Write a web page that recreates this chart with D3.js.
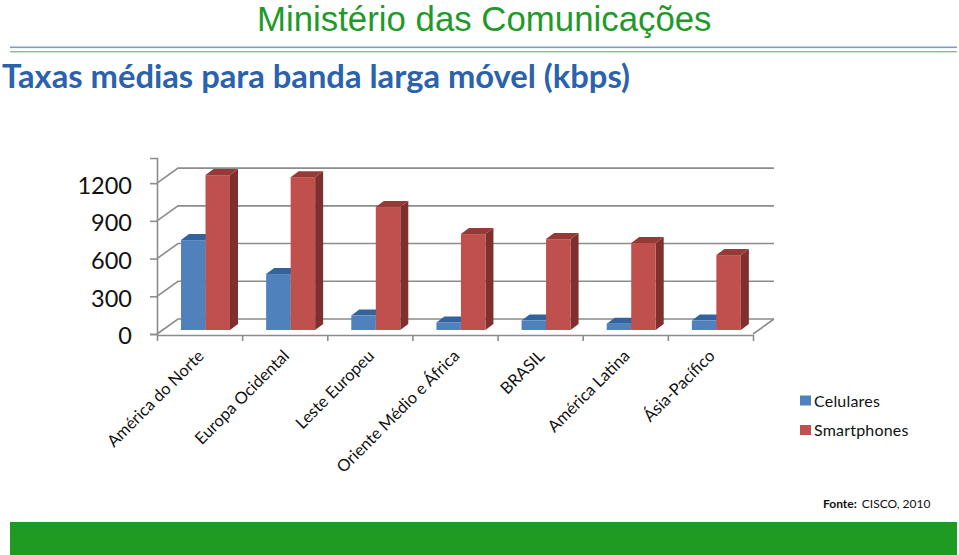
<!DOCTYPE html>
<html>
<head>
<meta charset="utf-8">
<script src="https://cdn.jsdelivr.net/npm/d3@7"></script>
<style>
html, body { margin: 0; padding: 0; background: #fff; overflow: hidden; }
text { font-family: Lato, sans-serif; }
</style>
</head>
<body>
<svg id="canvas"></svg>
<script>
let categories = ['América do Norte', 'Europa Ocidental', 'Leste Europeu', 'Oriente Médio e África', 'BRASIL', 'América Latina', 'Ásia-Pacífico']
let seriesNames = ['Celulares', 'Smartphones']
let celulares = [715, 445, 115, 60, 75, 50, 75]
let smartphones = [1232, 1216, 978, 763, 723, 692, 596]
let yTicks = [0, 300, 600, 900, 1200]

let width = 959
let height = 555

// offset of the back wall and of the bar depth
let wallX = 21
let wallY = -15
let depthX = 8
let depthY = -6
let barLift = -4

let frontColors = { Celulares: '#4f81bd', Smartphones: '#c0504d' }
let sideColors = { Celulares: '#2f5480', Smartphones: '#7f2f2c' }
let topColors = { Celulares: '#33639c', Smartphones: '#963a37' }

let canvas = d3.select('#canvas')
canvas.attr('width', width)
      .attr('height', height)

let xScale = d3.scaleBand()
               .domain(categories)
               .range([157, 753])

let innerScale = d3.scaleBand()
                   .domain(seriesNames)
                   .range([24, 73])

let yScale = d3.scaleLinear()
               .domain([0, 1400])
               .range([334, 158])

let drawHeader = () => {
    canvas.append('text')
          .attr('x', 257)
          .attr('y', 31)
          .attr('fill', '#1f9a2a')
          .style('font-family', '"Liberation Sans", sans-serif')
          .style('font-size', '34.8px')
          .text('Ministério das Comunicações')

    canvas.append('rect').attr('x', 10).attr('y', 46.5).attr('width', 947).attr('height', 1.6).attr('fill', '#7f9dbd')
    canvas.append('rect').attr('x', 10).attr('y', 51).attr('width', 947).attr('height', 1.4).attr('fill', '#8fb894')

    canvas.append('text')
          .attr('x', 2)
          .attr('y', 88)
          .attr('fill', '#2a62ae')
          .style('font-weight', 'bold')
          .style('font-size', '32.7px')
          .text('Taxas médias para banda larga móvel (kbps)')
}

let drawWalls = () => {
    let grid = canvas.append('g').attr('stroke', '#8c8c8c').attr('stroke-width', 1.6).attr('fill', 'none')

    grid.selectAll('.grid')
        .data(yTicks)
        .enter()
        .append('path')
        .attr('class', 'grid')
        .attr('d', (t) => {
            let y = yScale(t)
            return 'M' + xScale.range()[0] + ',' + y +
                   'L' + (xScale.range()[0] + wallX) + ',' + (y + wallY) +
                   'L' + (xScale.range()[1] + wallX) + ',' + (y + wallY)
        })

    // right edge of the floor
    grid.append('path')
        .attr('d', 'M' + xScale.range()[1] + ',' + yScale(0) + 'L' + (xScale.range()[1] + wallX) + ',' + (yScale(0) + wallY))
}

let drawBars = () => {
    let rows = []
    categories.forEach((c, i) => {
        rows.push({ cat: c, name: seriesNames[0], value: celulares[i] })
        rows.push({ cat: c, name: seriesNames[1], value: smartphones[i] })
    })

    let left = (d) => xScale(d.cat) + innerScale(d.name)
    let right = (d) => left(d) + innerScale.bandwidth()
    let top = (d) => yScale(d.value) + barLift
    let base = yScale(0) + barLift

    let bar = canvas.selectAll('.bar')
                    .data(rows)
                    .enter()
                    .append('g')
                    .attr('class', 'bar')

    bar.append('path')
       .attr('fill', (d) => sideColors[d.name])
       .attr('d', (d) => 'M' + right(d) + ',' + top(d) +
                         'L' + (right(d) + depthX) + ',' + (top(d) + depthY) +
                         'L' + (right(d) + depthX) + ',' + (base + depthY) +
                         'L' + right(d) + ',' + base + 'Z')

    bar.append('path')
       .attr('fill', (d) => topColors[d.name])
       .attr('d', (d) => 'M' + left(d) + ',' + top(d) +
                         'L' + (left(d) + depthX) + ',' + (top(d) + depthY) +
                         'L' + (right(d) + depthX) + ',' + (top(d) + depthY) +
                         'L' + right(d) + ',' + top(d) + 'Z')

    bar.append('rect')
       .attr('fill', (d) => frontColors[d.name])
       .attr('x', left)
       .attr('y', top)
       .attr('width', innerScale.bandwidth())
       .attr('height', (d) => base - top(d))
}

let drawAxes = () => {
    let yAxis = d3.axisLeft(yScale)
                  .tickValues(yTicks)
                  .tickFormat(d3.format('d'))
                  .tickSize(7)
                  .tickPadding(18)

    let yGroup = canvas.append('g')
                       .attr('id', 'y-axis')
                       .attr('transform', 'translate(' + xScale.range()[0] + ',0)')
                       .call(yAxis)

    yGroup.selectAll('text')
          .attr('fill', '#111')
          .attr('dy', '0.42em')
          .style('font-size', '23.5px')
    yGroup.selectAll('line, path').attr('stroke', '#8c8c8c').attr('stroke-width', 1.6)

    // boundaries between the categories, so a linear scale over the band indexes
    let xBounds = d3.scaleLinear()
                    .domain([0, categories.length])
                    .range(xScale.range())

    let xAxis = d3.axisBottom(xBounds)
                  .tickValues(d3.range(categories.length + 1))
                  .tickSize(6)
                  .tickSizeOuter(0)
                  .tickFormat('')

    let xGroup = canvas.append('g')
                       .attr('id', 'x-axis')
                       .attr('transform', 'translate(0,' + (yScale(0) + 1) + ')')
                       .call(xAxis)
    xGroup.selectAll('line, path').attr('stroke', '#8c8c8c').attr('stroke-width', 1.6)

    canvas.selectAll('.cat-label')
          .data(categories)
          .enter()
          .append('text')
          .attr('class', 'cat-label')
          .attr('text-anchor', 'end')
          .attr('fill', '#111')
          .style('font-size', '16.5px')
          .attr('transform', (c) => 'translate(' + (xScale(c) + 48) + ',357) rotate(-45)')
          .text((c) => c)
}

let drawLegend = () => {
    let item = canvas.selectAll('.legend')
                     .data(seriesNames)
                     .enter()
                     .append('g')
                     .attr('class', 'legend')
                     .attr('transform', (d, i) => 'translate(800,' + (395.5 + i * 29.5) + ')')

    item.append('rect')
        .attr('width', 11)
        .attr('height', 10)
        .attr('fill', (d) => frontColors[d])

    item.append('text')
        .attr('x', 14)
        .attr('y', 11)
        .attr('fill', '#111')
        .style('font-size', '16px')
        .style('letter-spacing', '0.2px')
        .text((d) => d)
}

let drawFooter = () => {
    let fonte = canvas.append('text')
                      .attr('x', 823)
                      .attr('y', 508)
                      .attr('fill', '#111')
                      .style('font-size', '12px')
    fonte.append('tspan').style('font-weight', 'bold').text('Fonte:')
    fonte.append('tspan').attr('dx', 5).text('CISCO, 2010')

    canvas.append('rect')
          .attr('x', 10)
          .attr('y', 522)
          .attr('width', 947)
          .attr('height', 33)
          .attr('fill', '#1f9a22')
}

drawHeader()
drawWalls()
drawAxes()
drawBars()
drawLegend()
drawFooter()
</script>
</body>
</html>
